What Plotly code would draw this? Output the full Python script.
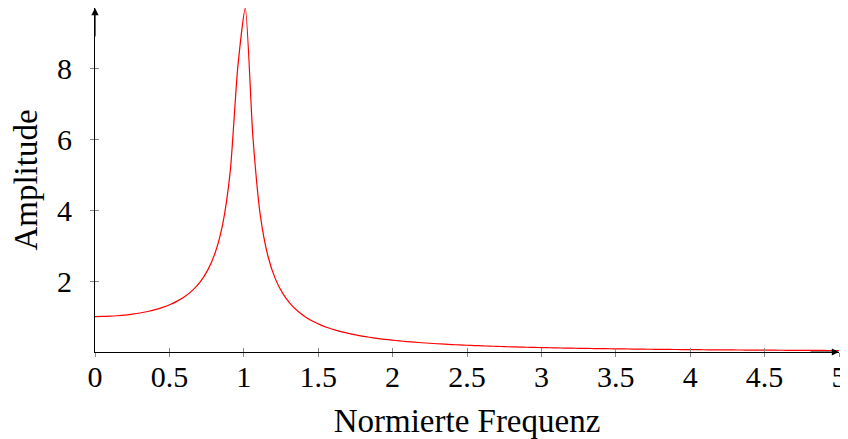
import plotly.graph_objects as go

# Normalized frequency (sampling grid) and amplitude
freq = [0.0, 0.0505, 0.1010, 0.1515, 0.2020, 0.2525, 0.3030, 0.3535, 0.4040, 0.4545,
        0.5051, 0.5556, 0.6061, 0.6566, 0.7071, 0.7576, 0.8081, 0.8586, 0.9091, 0.9596,
        1.0101, 1.0606, 1.1111, 1.1616, 1.2121, 1.2626, 1.3131, 1.3636, 1.4141, 1.4646,
        1.5152, 1.5657, 1.6162, 1.6667, 1.7172, 1.7677, 1.8182, 1.8687, 1.9192, 1.9697,
        2.0202, 2.0707, 2.1212, 2.1717, 2.2222, 2.2727, 2.3232, 2.3737, 2.4242, 2.4747,
        2.5253, 2.5758, 2.6263, 2.6768, 2.7273, 2.7778, 2.8283, 2.8788, 2.9293, 2.9798,
        3.0303, 3.0808, 3.1313, 3.1818, 3.2323, 3.2828, 3.3333, 3.3838, 3.4343, 3.4848,
        3.5354, 3.5859, 3.6364, 3.6869, 3.7374, 3.7879, 3.8384, 3.8889, 3.9394, 3.9899,
        4.0404, 4.0909, 4.1414, 4.1919, 4.2424, 4.2929, 4.3434, 4.3939, 4.4444, 4.4949,
        4.5455, 4.5960, 4.6465, 4.6970, 4.7475, 4.7980, 4.8485, 4.8990, 4.9495, 5.0]

amplitude = [1.0000, 1.0025, 1.0103, 1.0234, 1.0423, 1.0677, 1.1005, 1.1419, 1.1937, 1.2584,
             1.3393, 1.4418, 1.5734, 1.7461, 1.9801, 2.3108, 2.8067, 3.6166, 5.1041, 8.0381,
             9.7060, 6.1034, 3.8528, 2.7162, 2.0634, 1.6461, 1.3585, 1.1491, 0.9904, 0.8662,
             0.7666, 0.6851, 0.6173, 0.5600, 0.5112, 0.4690, 0.4324, 0.4002, 0.3717, 0.3465,
             0.3239, 0.3036, 0.2852, 0.2686, 0.2535, 0.2397, 0.2271, 0.2155, 0.2048, 0.1949,
             0.1858, 0.1773, 0.1694, 0.1621, 0.1552, 0.1488, 0.1428, 0.1371, 0.1318, 0.1268,
             0.1221, 0.1177, 0.1135, 0.1095, 0.1058, 0.1022, 0.0989, 0.0956, 0.0926, 0.0897,
             0.0869, 0.0843, 0.0818, 0.0794, 0.0771, 0.0749, 0.0728, 0.0708, 0.0689, 0.0670,
             0.0652, 0.0635, 0.0619, 0.0603, 0.0588, 0.0574, 0.0560, 0.0546, 0.0533, 0.0521,
             0.0509, 0.0497, 0.0486, 0.0475, 0.0464, 0.0454, 0.0444, 0.0435, 0.0425, 0.0417]

x_ticks = [0, 0.5, 1, 1.5, 2, 2.5, 3, 3.5, 4, 4.5, 5]
x_tick_labels = ["0", "0.5", "1", "1.5", "2", "2.5", "3", "3.5", "4", "4.5", "5"]
y_ticks = [2, 4, 6, 8]
y_tick_labels = ["2", "4", "6", "8"]

x_title = "Normierte Frequenz"
y_title = "Amplitude"

FONT = "Liberation Serif"
x_range = [0, max(freq)]
y_range = [0, max(amplitude)]

fig = go.Figure()
fig.add_trace(go.Scatter(x=freq, y=amplitude, mode="lines",
                         line=dict(color="#ff0000", width=1.2, shape="spline", smoothing=0.6),
                         cliponaxis=True, showlegend=False, hoverinfo="skip"))
# invisible trace on the overlay axes so they render
fig.add_trace(go.Scatter(x=x_range, y=y_range, xaxis="x2", yaxis="y2",
                         mode="markers", marker=dict(opacity=0),
                         showlegend=False, hoverinfo="skip"))

tick_col = "#8a8a8a"
# the page body adds an 8px offset, so the figure is 8px smaller than the window
fig.update_layout(
    width=840, height=431,
    margin=dict(l=87, r=9, t=0, b=87, autoexpand=False),
    plot_bgcolor="white", paper_bgcolor="white",
    font=dict(family=FONT, size=30, color="black"),
    xaxis=dict(range=x_range, tickvals=x_ticks, ticktext=x_tick_labels,
               ticks="outside", ticklen=4, tickwidth=1, tickcolor=tick_col,
               showgrid=False, zeroline=False, showline=True, linecolor="black",
               linewidth=1.2, tickfont=dict(size=30), automargin=False,
               ticklabelstandoff=-6, ticklabeloverflow="allow",
               title=dict(text=x_title, font=dict(size=33), standoff=16)),
    yaxis=dict(range=y_range, tickvals=y_ticks, ticktext=y_tick_labels,
               ticks="outside", ticklen=4, tickwidth=1, tickcolor=tick_col,
               showgrid=False, zeroline=False, showline=True, linecolor="black",
               linewidth=1.2, tickfont=dict(size=30), automargin=False,
               ticklabelstandoff=12,
               title=dict(text=y_title, font=dict(size=33), standoff=14)),
    xaxis2=dict(range=x_range, tickvals=x_ticks, overlaying="x",
                ticks="inside", ticklen=4, tickwidth=1, tickcolor=tick_col,
                showticklabels=False, showgrid=False, zeroline=False, showline=False,
                automargin=False),
    yaxis2=dict(range=y_range, tickvals=y_ticks, overlaying="y",
                ticks="inside", ticklen=4, tickwidth=1, tickcolor=tick_col,
                showticklabels=False, showgrid=False, zeroline=False, showline=False,
                automargin=False),
)

# arrow heads at the ends of the axes
fig.add_annotation(x=x_range[1], y=0, ax=-30, ay=0, xref="x", yref="y",
                   axref="pixel", ayref="pixel", text="", showarrow=True,
                   arrowhead=2, arrowsize=1.2, arrowwidth=1.2, arrowcolor="black")
fig.add_annotation(x=0, y=y_range[1], ax=0, ay=30, xref="x", yref="y",
                   axref="pixel", ayref="pixel", text="", showarrow=True,
                   arrowhead=2, arrowsize=1.2, arrowwidth=1.2, arrowcolor="black")

fig.write_html("out.html")
